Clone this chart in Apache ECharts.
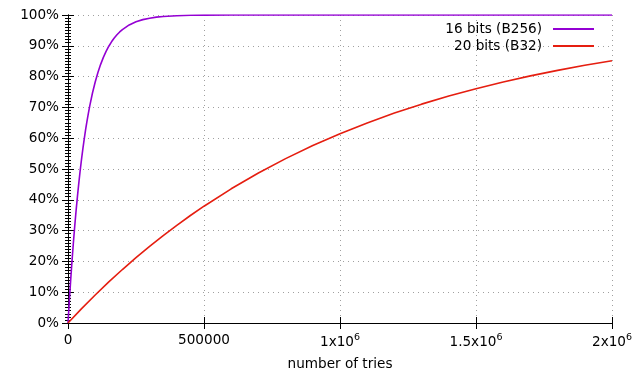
<!DOCTYPE html>
<html>
<head>
<meta charset="utf-8">
<script src="https://cdn.jsdelivr.net/npm/echarts@6/dist/echarts.min.js"></script>
<style>html,body{margin:0;padding:0;background:#fff}#c{width:643px;height:372px}</style>
</head>
<body>
<div id="c"></div>
<script>
// Series names
var seriesNames = ['16 bits (B256)', '20 bits (B32)'];
// x tick labels (base, exponent)
var xTickLabels = {0: ['0', ''], 500000: ['500000', ''], 1000000: ['1x10', '6'], 1500000: ['1.5x10', '6'], 2000000: ['2x10', '6']};
// 16 bits curve: [tries, percent]
var bits16 = [
  [0, 0], [5000, 7.35], [10000, 14.15], [15000, 20.46], [20000, 26.30], [25000, 31.72],
  [30000, 36.73], [35000, 41.37], [40000, 45.68], [45000, 49.67], [50000, 53.37],
  [55000, 56.80], [60000, 59.97], [65000, 62.91], [70000, 65.63], [75000, 68.17],
  [80000, 70.50], [90000, 74.67], [100000, 78.26], [110000, 81.33], [120000, 83.98],
  [130000, 86.24], [140000, 88.19], [150000, 89.86], [160000, 91.29], [170000, 92.53],
  [180000, 93.59], [190000, 94.49], [200000, 95.27], [225000, 96.77], [250000, 97.80],
  [275000, 98.50], [300000, 98.97], [325000, 99.30], [350000, 99.52], [400000, 99.78],
  [450000, 99.90], [500000, 99.95], [600000, 99.99], [800000, 100], [2000000, 100]
];
// 20 bits curve: [tries, percent]
var bits20 = [
  [0, 0], [50000, 4.66], [100000, 9.10], [150000, 13.33], [200000, 17.36], [250000, 21.21],
  [300000, 24.88], [350000, 28.38], [400000, 31.72], [450000, 34.90], [500000, 37.92],
  [600000, 43.57], [700000, 48.70], [800000, 53.37], [900000, 57.61],
  [1000000, 61.47], [1100000, 64.97], [1200000, 68.16], [1300000, 71.06],
  [1400000, 73.69], [1500000, 76.08], [1600000, 78.26], [1700000, 80.23],
  [1800000, 82.03], [1900000, 83.67], [2000000, 85.15]
];
var colors = ['#9400D3', '#E51E10'];

var FONT = 'DejaVu Sans';
var FS = 13.6;
var chart = echarts.init(document.getElementById('c'), null, {renderer: 'canvas'});
var axisLine = {show: true, lineStyle: {color: '#000', width: 1}};
var grid = {show: true, lineStyle: {color: '#a0a0a0', type: [1, 4], width: 1}};
chart.setOption({
  animation: false,
  textStyle: {fontFamily: FONT},
  grid: {left: 68, right: 31, top: 15, bottom: 49, containLabel: false, outerBoundsMode: 'none'},
  legend: [
    {data: [seriesNames[0]], right: 49, top: 22, align: 'right', orient: 'vertical',
     itemWidth: 41, itemHeight: 2, icon: 'rect', padding: 0,
     textStyle: {fontFamily: FONT, fontSize: FS, color: '#000', padding: [0, 6, 0, 0]}},
    {data: [seriesNames[1]], right: 49, top: 39, align: 'right', orient: 'vertical',
     itemWidth: 41, itemHeight: 2, icon: 'rect', padding: 0,
     textStyle: {fontFamily: FONT, fontSize: FS, color: '#000', padding: [0, 6, 0, 0]}}
  ],
  xAxis: [{
    type: 'value', min: 0, max: 2000000, interval: 500000,
    name: 'number of tries', nameLocation: 'middle', nameGap: 34,
    nameTextStyle: {fontFamily: FONT, fontSize: FS, color: '#000'},
    axisLine: axisLine,
    axisTick: {show: true, inside: true, length: 6, lineStyle: {color: '#000'}},
    splitLine: grid,
    axisLabel: {
      margin: 10, fontFamily: FONT, fontSize: FS, color: '#000',
      formatter: function (v) {
        var t = xTickLabels[v];
        if (!t) return '';
        return t[1] ? t[0] + '{sup|' + t[1] + '}' : t[0];
      },
      rich: {sup: {fontFamily: FONT, fontSize: 9.5, color: '#000', padding: [0, 0, 9, 0]}}
    }
  }, {
    type: 'value', position: 'top', min: 0, max: 2000000, interval: 500000,
    axisLine: axisLine,
    axisTick: {show: true, inside: true, length: 6, lineStyle: {color: '#000'}},
    axisLabel: {show: false}, splitLine: {show: false}
  }],
  yAxis: [{
    type: 'value', min: 0, max: 100, interval: 10,
    axisLine: axisLine,
    axisTick: {show: true, inside: true, length: 6, lineStyle: {color: '#000'}},
    minorTick: {show: true, splitNumber: 10, length: 3, lineStyle: {color: '#000'}},
    splitLine: grid,
    axisLabel: {margin: 9, fontFamily: FONT, fontSize: FS, color: '#000', formatter: '{value}%'}
  }, {
    type: 'value', position: 'right', min: 0, max: 100, interval: 10,
    axisLine: axisLine,
    axisTick: {show: true, inside: true, length: 6, lineStyle: {color: '#000'}},
    minorTick: {show: true, splitNumber: 10, length: 3, lineStyle: {color: '#000'}},
    axisLabel: {show: false}, splitLine: {show: false}
  }],
  series: [
    {name: seriesNames[0], type: 'line', data: bits16, showSymbol: false, smooth: false,
     color: colors[0], lineStyle: {color: colors[0], width: 1.6}},
    {name: seriesNames[1], type: 'line', data: bits20, showSymbol: false, smooth: false,
     color: colors[1], lineStyle: {color: colors[1], width: 1.6}}
  ]
});
</script>
</body>
</html>
